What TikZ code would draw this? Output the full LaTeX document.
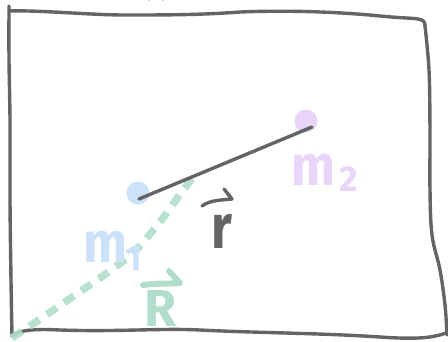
\documentclass[tikz,border=0pt]{standalone}
\usepackage{fontspec}
\setmainfont{Fira Sans}
\definecolor{inkgray}{RGB}{100,100,100}
\definecolor{mblue}{RGB}{204,226,250}
\definecolor{mpurple}{RGB}{233,213,250}
\definecolor{mgreen}{RGB}{176,222,202}
\begin{document}
\begin{tikzpicture}[x=1pt,y=-1pt,
  ink/.style={draw=inkgray,line width=3.4pt,line cap=round,line join=round},
  dot/.style={circle,inner sep=0pt,minimum size=23pt},
  lbl/.style={inner sep=0pt,font=\fontsize{52}{52}\selectfont\bfseries}]
\useasboundingbox (0,0) rectangle (448,341);
% frame
\draw[ink] plot[smooth,tension=0.6] coordinates {(9,6) (9,60) (10,120) (10,200) (11,280) (12,336)};
\draw[ink] (9,11) .. controls (40,10) and (90,15) .. (125,15) .. controls (165,15) and (200,15) .. (240,12)
  .. controls (290,10) and (340,12) .. (380,16) .. controls (400,18) and (412,18) .. (418,19)
  .. controls (424,20) and (425,22) .. (425,26);
\draw[ink] plot[smooth,tension=0.6] coordinates {(425,26) (429,70) (430,130) (430,190) (432,235) (440,270) (445,305) (447,335)};
\draw[ink] (12,336) .. controls (20,329) and (40,329) .. (60,330) .. controls (120,332) and (160,328) .. (200,330)
  .. controls (260,333) and (320,333) .. (380,337) .. controls (410,339) and (430,339) .. (446,333);
% top arc
\draw[ink] (149,-1) arc[start angle=180,end angle=360,radius=7];
% masses
\node[dot,fill=mblue] (m1) at (138,193) {};
\node[dot,fill=mpurple] (m2) at (306,121) {};
\coordinate (a) at (139,199);
\coordinate (b) at (312,127);
% R vector (dashed, green)
\draw[mgreen,line width=7.5pt,dash pattern=on 12pt off 9pt,opacity=0.9]
  plot[smooth,tension=0.6] coordinates {(12,338) (65,302) (127,258) (155,228) (176,200) (197,172)};
% r line
\draw[ink] (a) -- (b);
% labels
\node[lbl,text=mblue,transform shape,yscale=1.1] (l1) at (105,247) {m};
\node[lbl,text=mblue,font=\fontsize{36}{36}\selectfont\bfseries] (l1s) at (134,258) {1};
\node[lbl,text=mpurple,transform shape,yscale=1.1] (l2) at (313,170) {m};
\node[lbl,text=mpurple,font=\fontsize{36}{36}\selectfont\bfseries] (l2s) at (349,179) {2};
\node[lbl,text=inkgray,font=\fontsize{52}{52}\selectfont\bfseries,transform shape,yscale=1.2] (lr) at (222,231) {r};
\draw[ink] (202,206) .. controls (210,200) and (222,200) .. (232,199) -- (224,189);
\node[lbl,text=mgreen,font=\fontsize{52}{52}\selectfont\bfseries] (lR) at (161,308) {R};
\draw[mgreen,line width=6pt,line cap=round,line join=round] (143,285) .. controls (155,283) and (170,284) .. (180,283) -- (169,271);
\end{tikzpicture}
\end{document}
